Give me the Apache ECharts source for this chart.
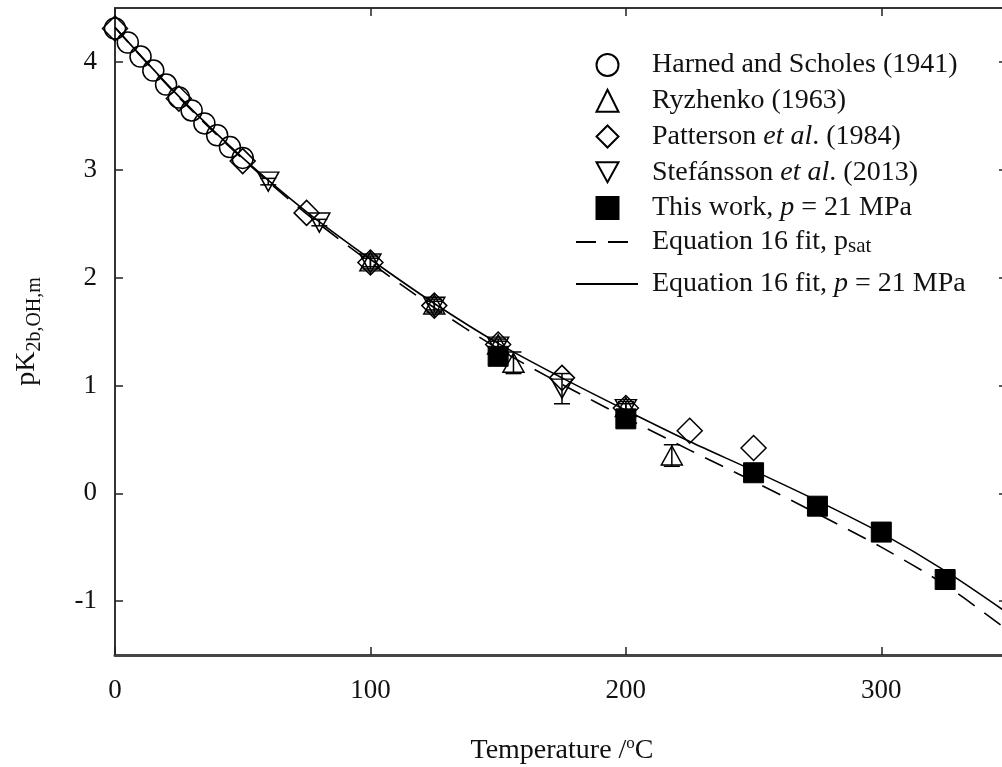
<!DOCTYPE html>
<html><head><meta charset="utf-8">
<script src="https://cdn.jsdelivr.net/npm/echarts@6/dist/echarts.min.js"></script>
<style>html,body{margin:0;padding:0;background:#fff}#c{width:1002px;height:767px}</style>
</head><body><div id="c"></div>
<script>
// ---- data ----
const harnedT = [0,5,10,15,20,25,30,35,40,45,50];
const harnedPK = [4.31,4.18,4.05,3.92,3.79,3.67,3.55,3.43,3.32,3.21,3.11];
const ryzT = [100,125,150,156,200,218];
const ryzPK = [2.15,1.75,1.38,1.21,0.80,0.35];
const ryzErr = [0.05,0.05,0.05,0.10,0.05,0.10];
const pattT = [0,25,50,75,100,125,150,175,200,225,250];
const pattPK = [4.31,3.66,3.08,2.60,2.14,1.74,1.38,1.07,0.79,0.58,0.42];
const stefT = [60,80,100,125,150,175,200];
const stefPK = [2.89,2.51,2.13,1.73,1.36,0.97,0.78];
const stefErr = [0.03,0.03,0.05,0.05,0.05,0.14,0.05];
const workT = [150,200,250,275,300,325];
const workPK = [1.27,0.69,0.19,-0.12,-0.36,-0.80];
const workErr = [0.07,0.03,0.03,0.03,0.03,0.03];
const fitT = [0,25,50,75,100,125,150,175,200,225,250,275,300,325,350];
const fitSat = [4.32,3.67,3.10,2.59,2.14,1.72,1.34,1.01,0.70,0.40,0.11,-0.19,-0.50,-0.85,-1.28];
const fit21 = [4.32,3.68,3.11,2.61,2.17,1.76,1.39,1.07,0.77,0.48,0.21,-0.07,-0.37,-0.72,-1.12];
const xTicks = [0,100,200,300];
const yTicks = [-1,0,1,2,3,4];
const names = ['Harned and Scholes (1941)','Ryzhenko (1963)','Patterson et al. (1984)','Stefánsson et al. (2013)','This work, p = 21 MPa','Equation 16 fit, psat','Equation 16 fit, p = 21 MPa'];

const FONT = "'Liberation Serif','Times New Roman',serif";
const pts = (t, v) => t.map((x, i) => [x, v[i]]);
const errs = (t, v, e) => t.map((x, i) => [x, v[i] - e[i], v[i] + e[i]]);
const TRI_DOWN = 'path://M0,0L20,0L10,18Z';

function errRender(params, api) {
  const x = api.value(0), lo = api.value(1), hi = api.value(2);
  const p1 = api.coord([x, hi]), p2 = api.coord([x, lo]);
  const w = 8;
  const style = {stroke: '#000', lineWidth: 1.5};
  return {type: 'group', children: [
    {type: 'line', shape: {x1: p1[0], y1: p1[1], x2: p2[0], y2: p2[1]}, style},
    {type: 'line', shape: {x1: p1[0] - w, y1: p1[1], x2: p1[0] + w, y2: p1[1]}, style},
    {type: 'line', shape: {x1: p2[0] - w, y1: p2[1], x2: p2[0] + w, y2: p2[1]}, style}
  ]};
}
function errSeries(t, v, e) {
  return {type: 'custom', renderItem: errRender, data: errs(t, v, e), encode: {x: 0, y: [1, 2]}, z: 3, silent: true};
}
const openStyle = {color: 'rgba(0,0,0,0)', borderColor: '#000', borderWidth: 1.5, opacity: 1};

const fmt = {
  'Harned and Scholes (1941)': 'Harned and Scholes (1941)',
  'Ryzhenko (1963)': 'Ryzhenko (1963)',
  'Patterson et al. (1984)': 'Patterson {i|et al}. (1984)',
  'Stefánsson et al. (2013)': 'Stefánsson {i|et al}. (2013)',
  'This work, p = 21 MPa': 'This work, {i|p} = 21 MPa',
  'Equation 16 fit, psat': 'Equation 16 fit, p{s|sat}',
  'Equation 16 fit, p = 21 MPa': 'Equation 16 fit, {i|p} = 21 MPa'
};
function legText(padLeft) {
  return {
    fontFamily: FONT, fontSize: 28, color: '#111', lineHeight: 30, padding: [0, 0, 0, padLeft],
    rich: {
      i: {fontFamily: FONT, fontSize: 28, fontStyle: 'italic', color: '#111', lineHeight: 30},
      s: {fontFamily: FONT, fontSize: 21, color: '#111', lineHeight: 12, verticalAlign: 'bottom'}
    }
  };
}

const option = {
  animation: false,
  backgroundColor: '#fff',
  grid: {left: 115, right: -7, top: 8, bottom: 112, containLabel: false, outerBoundsMode: 'none'},
  legend: [
    {data: names.slice(0, 5), orient: 'vertical', left: 590.5, top: 45, itemGap: 5.75,
     itemWidth: 22, itemHeight: 22, selectedMode: false, textStyle: legText(28.5), formatter: n => fmt[n]},
    {data: names.slice(5), orient: 'vertical', left: 570, top: 222, itemGap: 12,
     itemWidth: 62, itemHeight: 21, selectedMode: false, textStyle: legText(9), formatter: n => fmt[n],
     itemStyle: {color: 'rgba(0,0,0,0)', borderWidth: 0, opacity: 0}}
  ],
  xAxis: [
    {type: 'value', min: 0, max: 350, position: 'bottom',
     axisLine: {show: true, onZero: false, lineStyle: {color: '#444', width: 3}},
     axisTick: {show: true, inside: true, length: 8, customValues: xTicks, lineStyle: {color: '#222', width: 1.5}},
     axisLabel: {show: true, customValues: xTicks, fontFamily: FONT, fontSize: 27, color: '#111', margin: 22},
     splitLine: {show: false},
     name: 'Temperature /{sup|o}C', nameLocation: 'middle', nameGap: 80,
     nameTextStyle: {fontFamily: FONT, fontSize: 28, color: '#111', lineHeight: 32,
       rich: {sup: {fontFamily: FONT, fontSize: 17, color: '#111', lineHeight: 14, verticalAlign: 'top'}}}},
    {type: 'value', min: 0, max: 350, position: 'top',
     axisLine: {show: true, onZero: false, lineStyle: {color: '#333', width: 2}},
     axisTick: {show: true, inside: true, length: 8, customValues: xTicks, lineStyle: {color: '#222', width: 1.5}},
     axisLabel: {show: false}, splitLine: {show: false}}
  ],
  yAxis: [
    {type: 'value', min: -1.5, max: 4.5, position: 'left',
     axisLine: {show: true, onZero: false, lineStyle: {color: '#333', width: 2}},
     axisTick: {show: true, inside: true, length: 8, customValues: yTicks, lineStyle: {color: '#222', width: 1.5}},
     axisLabel: {show: true, customValues: yTicks, fontFamily: FONT, fontSize: 27, color: '#111', margin: 18},
     splitLine: {show: false},
     name: '{m|pK}{s|2b,OH,m}', nameLocation: 'middle', nameGap: 70, nameRotate: 90,
     nameTextStyle: {fontFamily: FONT, fontSize: 28, color: '#111', lineHeight: 36,
       rich: {m: {fontFamily: FONT, fontSize: 28, color: '#111', lineHeight: 36},
              s: {fontFamily: FONT, fontSize: 20, color: '#111', lineHeight: 12, verticalAlign: 'bottom'}}}},
    {type: 'value', min: -1.5, max: 4.5, position: 'right',
     axisLine: {show: true, onZero: false, lineStyle: {color: '#333', width: 2}},
     axisTick: {show: true, inside: true, length: 10, customValues: yTicks, lineStyle: {color: '#222', width: 1.5}},
     axisLabel: {show: false}, splitLine: {show: false}}
  ],
  series: [
    {name: names[5], type: 'line', data: pts(fitT, fitSat), smooth: 0.3, symbol: 'none', showSymbol: false,
     itemStyle: {color: '#000'},
     lineStyle: {color: '#000', width: 1.6, type: [20, 12]}, z: 1, silent: true},
    {name: names[6], type: 'line', data: pts(fitT, fit21), smooth: 0.3, symbol: 'none', showSymbol: false,
     itemStyle: {color: '#000'},
     lineStyle: {color: '#000', width: 1.6, type: 'solid'}, z: 1, silent: true},
    errSeries(ryzT, ryzPK, ryzErr),
    errSeries(stefT, stefPK, stefErr),
    errSeries(workT, workPK, workErr),
    {name: names[0], type: 'scatter', data: pts(harnedT, harnedPK), symbol: 'circle', symbolSize: 21, itemStyle: openStyle, z: 4},
    {name: names[1], type: 'scatter', data: pts(ryzT, ryzPK), symbol: 'triangle', symbolSize: [21, 19], itemStyle: openStyle, z: 4},
    {name: names[2], type: 'scatter', data: pts(pattT, pattPK), symbol: 'diamond', symbolSize: 25, itemStyle: openStyle, z: 4},
    {name: names[3], type: 'scatter', data: pts(stefT, stefPK), symbol: TRI_DOWN, symbolSize: [21, 19], itemStyle: openStyle, z: 4},
    {name: names[4], type: 'scatter', data: pts(workT, workPK), symbol: 'rect', symbolSize: 20, itemStyle: {color: '#000', borderColor: '#000', borderWidth: 1, opacity: 1}, z: 5}
  ]
};
echarts.init(document.getElementById('c')).setOption(option);
</script></body></html>
